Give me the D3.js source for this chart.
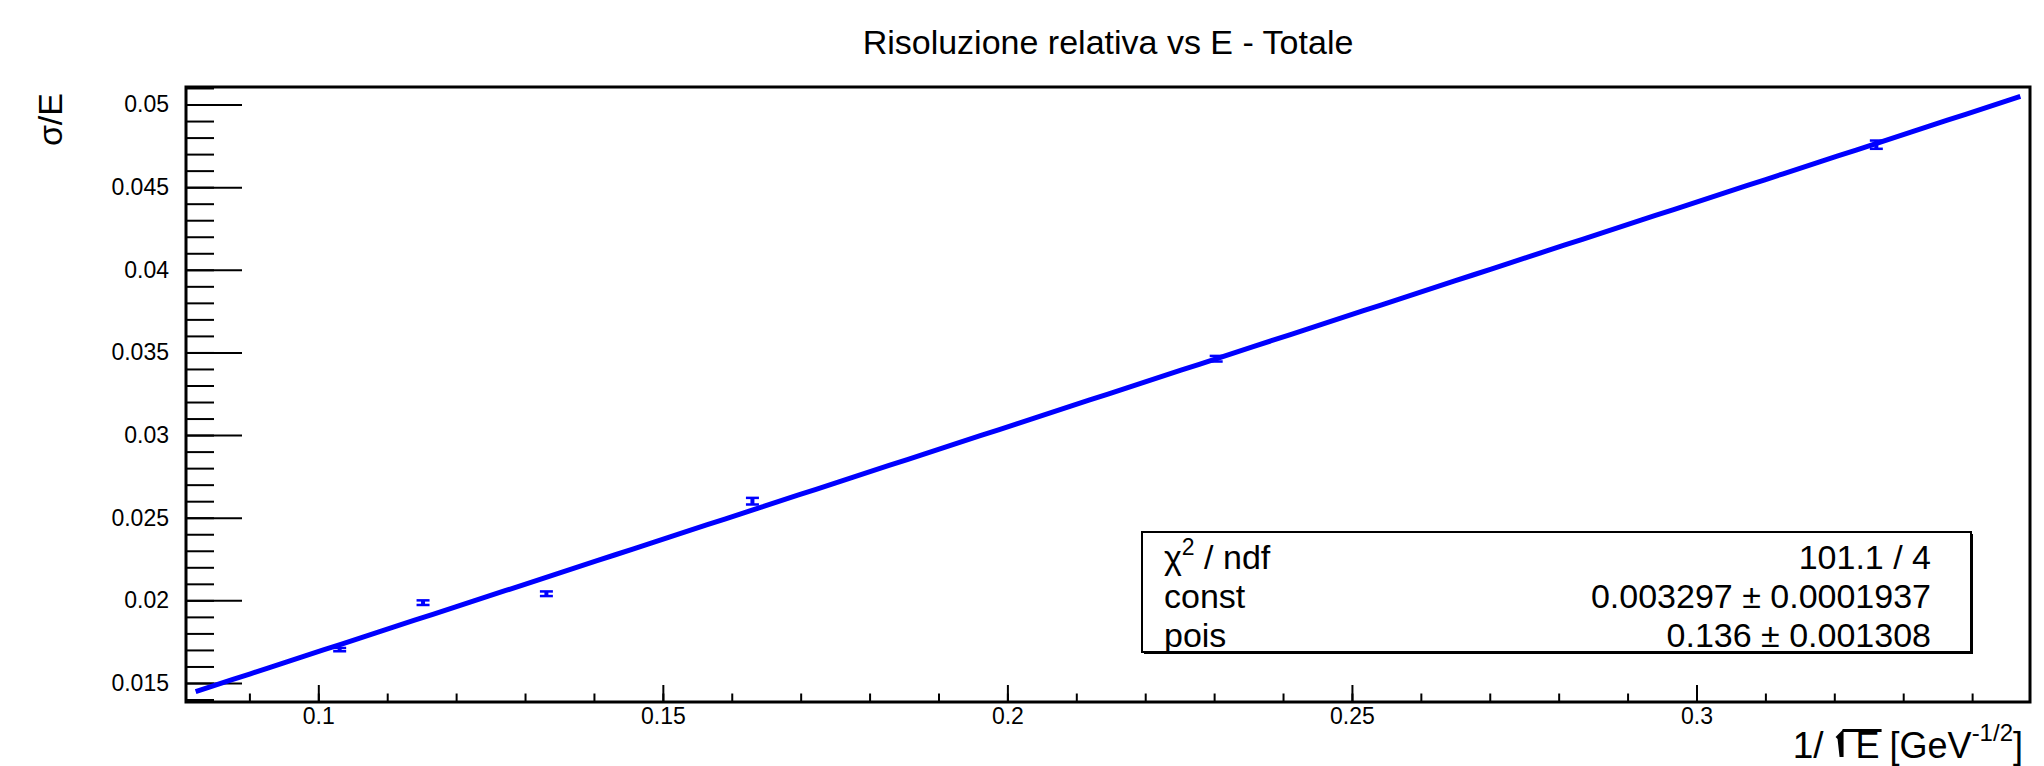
<!DOCTYPE html>
<html>
<head>
<meta charset="utf-8">
<script src="https://cdn.jsdelivr.net/npm/d3@7"></script>
<style>
  html, body { margin: 0; padding: 0; background: #ffffff; }
  svg { display: block; font-family: "Liberation Sans", Arial, Helvetica, sans-serif; }
</style>
</head>
<body>
<svg id="chart" width="2044" height="766"></svg>
<script>
// Measured points: 1/sqrt(E) against relative resolution sigma/E, with errors
const invSqrtE   = [0.1031, 0.1152, 0.1331, 0.1630, 0.2303, 0.3261];
const sigmaOverE = [0.01702, 0.01986, 0.02040, 0.02600, 0.03462, 0.04757];
const sigmaErr   = [0.00010, 0.00014, 0.00014, 0.00020, 0.00017, 0.00025];

// Linear fit  sigma/E = const + pois * (1/sqrt(E))
const fitConst = 0.003297;
const fitPois  = 0.136;
const fitRange = [0.0822, 0.3470];

// Axis ranges and tick labels
const xDomain = [0.0808, 0.3484];
const yDomain = [0.01385, 0.05106];
const xMajorTicks = [0.1, 0.15, 0.2, 0.25, 0.3];
const xTickLabels = ["0.1", "0.15", "0.2", "0.25", "0.3"];
const yMajorTicks = [0.015, 0.02, 0.025, 0.03, 0.035, 0.04, 0.045, 0.05];
const yTickLabels = ["0.015", "0.02", "0.025", "0.03", "0.035", "0.04", "0.045", "0.05"];

// Fit statistics box
const statNames  = ["χ", "const", "pois"];
const statValues = ["101.1 / 4", "0.003297 ± 0.0001937", "0.136 ± 0.001308"];

const W = 2044, H = 766;
const frame = { left: 186, right: 2030, top: 87, bottom: 702 };

const svg = d3.select("#chart");
svg.append("rect").attr("width", W).attr("height", H).attr("fill", "#ffffff");

const x = d3.scaleLinear().domain(xDomain).range([frame.left, frame.right]);
const y = d3.scaleLinear().domain(yDomain).range([frame.bottom, frame.top]);

// Minor tick positions every 0.01 in x and every 0.001 in y
const xMinor = d3.range(9, 35).map(i => i / 100).filter(v => v >= xDomain[0] && v <= xDomain[1]);
const yMinor = d3.range(14, 52).map(i => i / 1000).filter(v => v >= yDomain[0] && v <= yDomain[1]);

function styleAxis(g) {
  g.select(".domain").remove();
  g.selectAll(".tick line").attr("stroke", "#000").attr("stroke-width", 2);
  g.selectAll(".tick text").attr("fill", "#000");
}

// X axis (ticks drawn inward, upwards from the bottom frame)
svg.append("g")
  .attr("transform", `translate(0,${frame.bottom})`)
  .call(d3.axisBottom(x).tickValues(xMinor).tickSize(-8.5).tickFormat(""))
  .call(styleAxis);
svg.append("g")
  .attr("transform", `translate(0,${frame.bottom})`)
  .call(d3.axisBottom(x).tickValues(xMajorTicks).tickSize(-17).tickPadding(6)
        .tickFormat((d, i) => xTickLabels[i]))
  .call(styleAxis)
  .selectAll(".tick text").attr("font-size", 23).attr("font-family", "Liberation Sans, Arial, sans-serif");

// Y axis (ticks drawn inward, to the right of the left frame)
svg.append("g")
  .attr("transform", `translate(${frame.left},0)`)
  .call(d3.axisLeft(y).tickValues(yMinor).tickSize(-28).tickFormat(""))
  .call(styleAxis);
svg.append("g")
  .attr("transform", `translate(${frame.left},0)`)
  .call(d3.axisLeft(y).tickValues(yMajorTicks).tickSize(-56).tickPadding(17)
        .tickFormat((d, i) => yTickLabels[i]))
  .call(styleAxis)
  .selectAll(".tick text").attr("font-size", 23).attr("font-family", "Liberation Sans, Arial, sans-serif");

// Frame
svg.append("rect")
  .attr("x", frame.left).attr("y", frame.top)
  .attr("width", frame.right - frame.left).attr("height", frame.bottom - frame.top)
  .attr("fill", "none").attr("stroke", "#000").attr("stroke-width", 3);

// Fit line
const fitXs = d3.range(0, 101).map(i => fitRange[0] + (fitRange[1] - fitRange[0]) * i / 100);
svg.append("path")
  .datum(fitXs)
  .attr("fill", "none")
  .attr("stroke", "#0000ff")
  .attr("stroke-width", 5)
  .attr("d", d3.line().x(v => x(v)).y(v => y(fitConst + fitPois * v)));

// Data points with error bars
const points = invSqrtE.map((v, i) => ({ x: v, y: sigmaOverE[i], e: sigmaErr[i] }));
const capHalf = 6.5;
const pg = svg.append("g").attr("stroke", "#0000ff").attr("fill", "none");
pg.selectAll("line.bar").data(points).join("line").attr("class", "bar")
  .attr("x1", d => x(d.x)).attr("x2", d => x(d.x))
  .attr("y1", d => y(d.y - d.e)).attr("y2", d => y(d.y + d.e))
  .attr("stroke-width", 4);
pg.selectAll("line.capTop").data(points).join("line").attr("class", "capTop")
  .attr("x1", d => x(d.x) - capHalf).attr("x2", d => x(d.x) + capHalf)
  .attr("y1", d => y(d.y + d.e)).attr("y2", d => y(d.y + d.e))
  .attr("stroke-width", 2.5);
pg.selectAll("line.capBot").data(points).join("line").attr("class", "capBot")
  .attr("x1", d => x(d.x) - capHalf).attr("x2", d => x(d.x) + capHalf)
  .attr("y1", d => y(d.y - d.e)).attr("y2", d => y(d.y - d.e))
  .attr("stroke-width", 2.5);

// Title
svg.append("text")
  .attr("x", 1108).attr("y", 54)
  .attr("text-anchor", "middle")
  .attr("font-size", 34)
  .attr("fill", "#000")
  .text("Risoluzione relativa vs E - Totale");

// Y axis title
svg.append("text")
  .attr("transform", "translate(62,93) rotate(-90)")
  .attr("text-anchor", "end")
  .attr("font-size", 34)
  .attr("fill", "#000")
  .text("σ/E");

// X axis title: 1/ sqrt(E) [GeV^-1/2]
const xt = svg.append("text")
  .attr("x", 2023).attr("y", 758)
  .attr("text-anchor", "end")
  .attr("font-size", 36)
  .attr("fill", "#000");
xt.append("tspan").attr("font-size", 37).text("1/");
xt.append("tspan").attr("dx", 32).text("E");
xt.append("tspan").text(" [GeV");
xt.append("tspan").attr("dy", -17).attr("font-size", 24).text("-1/2");
xt.append("tspan").attr("dy", 17).text("]");
{
  const node = xt.node();
  const eBox = node.getExtentOfChar(2);
  const top = eBox.y + eBox.height * 0.1;
  const bottom = eBox.y + eBox.height * 0.78;
  const barX = eBox.x - 20;
  svg.append("path")
    .attr("fill", "#000")
    .attr("d", `M${barX},${top + 8} L${barX + 8},${top} L${barX + 8},${bottom} L${barX + 4},${bottom} L${barX + 2},${top + 10} Z`);
  svg.append("line")
    .attr("x1", barX + 7).attr("x2", eBox.x + eBox.width + 2)
    .attr("y1", top + 1.5).attr("y2", top + 1.5)
    .attr("stroke", "#000").attr("stroke-width", 3);
}

// Statistics box
const box = { x: 1142, y: 532, w: 829, h: 120 };
svg.append("rect")
  .attr("x", box.x + 2).attr("y", box.y + 2).attr("width", box.w).attr("height", box.h)
  .attr("fill", "#000");
svg.append("rect")
  .attr("x", box.x).attr("y", box.y).attr("width", box.w).attr("height", box.h)
  .attr("fill", "#fff").attr("stroke", "#000").attr("stroke-width", 2);

const rowBase = [569, 608, 647];
statNames.forEach((name, i) => {
  const t = svg.append("text")
    .attr("x", 1164).attr("y", rowBase[i])
    .attr("font-size", 34).attr("fill", "#000");
  if (i === 0) {
    t.append("tspan").text(name);
    t.append("tspan").attr("dy", -14).attr("font-size", 23).text("2");
    t.append("tspan").attr("dy", 14).text(" / ndf");
  } else {
    t.text(name);
  }
  svg.append("text")
    .attr("x", 1931).attr("y", rowBase[i])
    .attr("text-anchor", "end")
    .attr("font-size", 34).attr("fill", "#000")
    .text(statValues[i]);
});
</script>
</body>
</html>
